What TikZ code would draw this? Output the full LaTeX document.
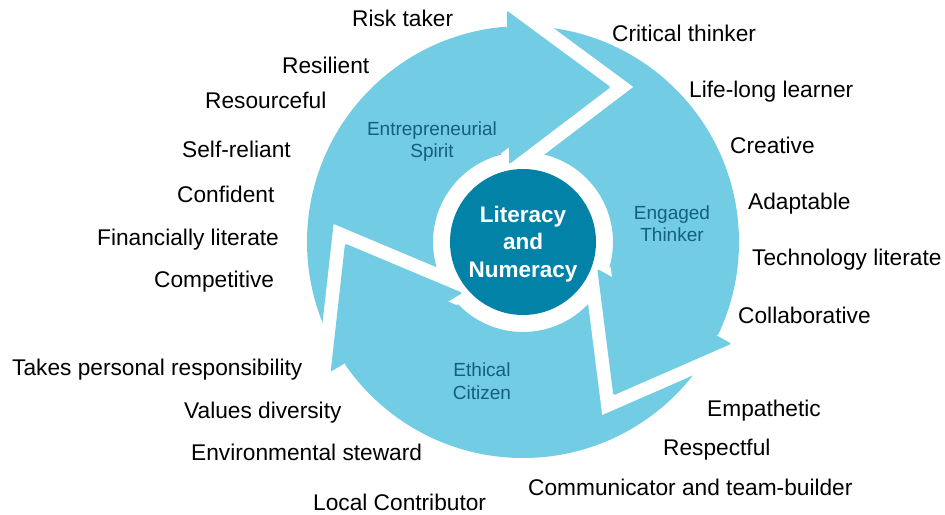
\documentclass[tikz,border=0pt]{standalone}
\usepackage{fontspec}
\setmainfont{Liberation Sans}
\definecolor{lblue}{HTML}{72CCE3}
\definecolor{dteal}{HTML}{0382A8}
\definecolor{seglab}{HTML}{145F80}
\tikzset{
  lab/.style={font=\fontsize{22.7}{27}\selectfont, anchor=base west, inner sep=0pt, text=black},
  seglabel/.style={font=\fontsize{19}{22.5}\selectfont, align=center, text=seglab, inner sep=0pt, anchor=base},
  hub/.style={font=\bfseries\fontsize{22.5}{27.5}\selectfont, align=center, text=white, inner sep=0pt, anchor=base},
  gapline/.style={draw=white, line width=27pt},
  headfill/.style={fill=lblue, rounded corners=2pt}
}
\begin{document}
\begin{tikzpicture}[x=1pt, y=-1pt]
\path[use as bounding box] (0,0) rectangle (945,514);
\coordinate (C) at (523,242);
% ring
\fill[lblue, even odd rule] (C) circle[radius=216pt] (C) circle[radius=90pt];
% arrowhead geometry
\foreach \k/\t in {1/60.5, 2/-59.5, 3/180.5}{
  \coordinate (O\k) at ({523+232*cos(\t+33.5)},{242-232*sin(\t+33.5)});
  \coordinate (T\k) at ({523+178*cos(\t)},{242-178*sin(\t)});
  \coordinate (I\k) at ({523+79*cos(\t+39.6)},{242-79*sin(\t+39.6)});
}
\foreach \k in {1,2,3}{
  \draw[gapline] (O\k) -- (T\k) -- (I\k);
}
\foreach \k in {1,2,3}{
  \path[headfill] (O\k) -- (T\k) -- (I\k) -- cycle;
}
% hub
\fill[dteal] (C) circle[radius=73pt];
\node[hub] (hubtext) at (523,277) {Literacy\\and\\Numeracy};
% segment labels
\node[seglabel] (entre) at (432,157.5) {Entrepreneurial\\Spirit};
\node[seglabel] (engag) at (672,241.5) {Engaged\\Thinker};
\node[seglabel] (ethic) at (482,399) {Ethical\\Citizen};
% attribute labels
\node[lab] (risk) at (352,27) {Risk taker};
\node[lab] (resil) at (282,73) {Resilient};
\node[lab] (resou) at (205,108) {Resourceful};
\node[lab] (selfr) at (182,157) {Self-reliant};
\node[lab] (conf) at (177,202) {Confident};
\node[lab] (fin) at (97,245) {Financially literate};
\node[lab] (comp) at (154,287) {Competitive};
\node[lab] (takes) at (12,375) {Takes personal responsibility};
\node[lab] (vals) at (184,418) {Values diversity};
\node[lab] (env) at (191,460) {Environmental steward};
\node[lab] (local) at (313,510) {Local Contributor};
\node[lab] (crit) at (612,41) {Critical thinker};
\node[lab] (life) at (689,97) {Life-long learner};
\node[lab] (creat) at (730,153) {Creative};
\node[lab] (adapt) at (748,209) {Adaptable};
\node[lab] (tech) at (752,265) {Technology literate};
\node[lab] (collab) at (738,323) {Collaborative};
\node[lab] (emp) at (707,416) {Empathetic};
\node[lab] (resp) at (663,455) {Respectful};
\node[lab] (comm) at (528,495) {Communicator and team-builder};
\end{tikzpicture}
\end{document}
